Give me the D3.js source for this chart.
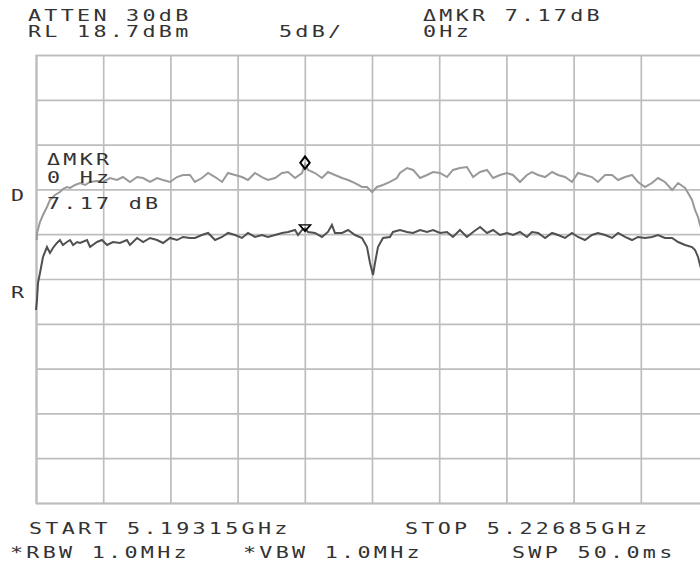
<!DOCTYPE html>
<html><head><meta charset="utf-8">
<script src="https://cdn.jsdelivr.net/npm/d3@7"></script>
<style>body{margin:0;background:#fff}svg{display:block}</style>
</head><body><svg id="c" width="700" height="565"></svg>
<script>
// ---- instrument settings ----
const startMHz = 5193.15, stopMHz = 5226.85;
const refLevel = 18.7, dbPerDiv = 5, nDiv = 10;

// ---- trace D (upper, lighter) : frequency MHz / level dBm ----
const upperFreq = [5193.19,5193.20,5193.35,5193.50,5193.70,5193.85,5194.10,5194.35,5194.50,5194.70,5194.86,5195.11,5195.36,5195.61,5195.86,5196.21,5196.51,5196.86,5197.21,5197.51,5197.86,5198.22,5198.52,5198.87,5199.22,5199.52,5199.87,5200.22,5200.52,5200.87,5201.12,5201.47,5201.78,5202.13,5202.48,5202.78,5203.13,5203.48,5203.78,5204.13,5204.48,5204.78,5205.14,5205.49,5205.79,5206.14,5206.49,5206.64,5206.79,5207.14,5207.49,5207.79,5208.14,5208.50,5208.80,5209.15,5209.50,5209.75,5210.00,5210.25,5210.55,5210.90,5211.25,5211.40,5211.76,5212.06,5212.41,5212.76,5213.06,5213.41,5213.76,5214.06,5214.41,5214.76,5215.07,5215.42,5215.77,5216.07,5216.42,5216.77,5217.07,5217.42,5217.77,5218.02,5218.33,5218.68,5219.03,5219.33,5219.68,5220.03,5220.33,5220.68,5221.03,5221.33,5221.69,5222.04,5222.34,5222.69,5223.04,5223.34,5223.69,5224.04,5224.34,5224.69,5225.05,5225.35,5225.70,5225.85,5226.05,5226.20,5226.35,5226.45,5226.85];
const upperLevel = [-1.95,-1.16,0.06,0.84,1.74,2.52,3.08,3.41,3.75,3.97,3.86,4.19,4.41,4.19,4.53,4.64,4.53,4.97,4.75,5.08,4.53,5.08,4.97,4.53,4.97,4.75,4.53,5.08,5.31,5.31,4.53,4.97,5.53,5.08,4.53,5.53,5.31,5.08,4.75,5.53,5.08,4.75,4.97,5.53,5.64,4.97,5.53,6.51,5.87,5.53,4.97,5.64,5.31,4.97,4.75,4.41,3.97,3.97,3.41,3.97,4.19,4.53,4.97,5.53,6.09,5.87,4.97,5.31,5.64,5.53,5.08,5.87,6.09,6.20,5.08,5.64,5.87,4.97,5.31,5.53,5.31,4.53,5.31,5.64,5.31,5.08,5.64,5.31,5.08,4.53,5.53,5.31,5.08,4.53,5.31,5.31,4.75,5.08,5.31,4.53,3.97,4.41,4.97,4.53,3.63,4.41,3.86,3.30,2.52,1.40,0.62,-0.27,-2.50];

// ---- trace R (lower, darker) ----
const lowerFreq = [5193.15,5193.20,5193.25,5193.35,5193.50,5193.70,5193.85,5194.00,5194.20,5194.35,5194.50,5194.70,5194.86,5195.01,5195.21,5195.36,5195.71,5195.86,5196.21,5196.46,5196.71,5197.01,5197.36,5197.71,5197.86,5198.22,5198.52,5198.87,5199.22,5199.52,5199.87,5200.22,5200.52,5200.87,5201.12,5201.47,5201.78,5202.13,5202.48,5202.78,5203.13,5203.48,5203.78,5204.13,5204.48,5204.78,5205.14,5205.49,5205.79,5206.14,5206.29,5206.49,5206.64,5206.79,5207.14,5207.49,5207.79,5207.99,5208.14,5208.50,5208.80,5209.15,5209.50,5209.75,5209.90,5210.05,5210.15,5210.30,5210.55,5210.90,5211.05,5211.40,5211.76,5212.06,5212.41,5212.76,5213.06,5213.41,5213.76,5214.06,5214.41,5214.76,5215.07,5215.42,5215.77,5216.07,5216.42,5216.77,5217.07,5217.42,5217.77,5218.02,5218.33,5218.68,5219.03,5219.33,5219.68,5220.03,5220.33,5220.68,5221.03,5221.33,5221.69,5222.04,5222.34,5222.69,5223.04,5223.34,5223.69,5224.04,5224.34,5224.69,5225.05,5225.35,5225.70,5226.05,5226.20,5226.35,5226.45,5226.85];
const lowerLevel = [-9.76,-8.64,-6.74,-5.63,-3.84,-2.73,-3.40,-2.84,-2.28,-1.95,-2.50,-2.17,-1.95,-2.50,-2.17,-2.28,-1.95,-2.73,-2.17,-1.95,-2.50,-2.17,-2.28,-1.95,-2.50,-1.72,-2.17,-1.72,-1.95,-2.28,-1.72,-1.95,-1.61,-1.72,-1.72,-1.39,-1.16,-1.95,-1.61,-1.16,-1.39,-1.72,-1.16,-1.61,-1.39,-1.61,-1.39,-1.16,-1.05,-0.83,-1.39,-0.83,-0.66,-1.05,-1.16,-1.61,-1.05,-0.27,-1.16,-1.16,-0.83,-1.39,-1.72,-2.73,-4.51,-5.85,-4.51,-2.73,-1.72,-1.61,-1.05,-0.83,-1.05,-1.16,-0.83,-1.05,-0.83,-1.16,-1.05,-1.61,-0.83,-1.61,-1.05,-0.50,-1.16,-0.83,-1.39,-1.16,-1.39,-1.05,-1.61,-1.05,-1.16,-1.72,-1.16,-1.39,-1.72,-1.16,-1.61,-1.95,-1.39,-1.16,-1.39,-1.72,-1.16,-1.61,-1.95,-1.61,-1.72,-1.61,-1.39,-1.72,-1.72,-2.17,-2.50,-2.73,-3.06,-3.84,-4.74,-7.50];

// ---- markers ----
const markerFreq = 5206.64;
const refMarkerLevel = -0.66;
const deltaMarkerDb = 7.17;

// ---- annotation text ----
const headerLeft = ["ATTEN 30dB", "RL 18.7dBm"];
const scaleLabel = "5dB/";
const headerRight = ["\u0394MKR 7.17dB", "0Hz"];
const footerTop = ["START 5.19315GHz", "STOP 5.22685GHz"];
const footerBottom = ["*RBW 1.0MHz", "*VBW 1.0MHz", "SWP 50.0ms"];
const markerReadout = ["\u0394MKR", "0 Hz", "7.17 dB"];
const traceLabels = ["D", "R"];

// ---- drawing ----
const svg = d3.select("#c");
const L = 36, R = 708, T = 55, B = 503;
const x = d3.scaleLinear([startMHz, stopMHz], [L, R]);
const y = d3.scaleLinear([refLevel - dbPerDiv * nDiv, refLevel], [B, T]);

const xTicks = d3.range(nDiv + 1).map(i => startMHz + i * (stopMHz - startMHz) / nDiv);
const yTicks = d3.range(nDiv + 1).map(i => refLevel - i * dbPerDiv);

const gridColor = "#bdbdbd";
svg.append("g").attr("transform", `translate(0,${B})`)
  .call(d3.axisBottom(x).tickValues(xTicks).tickSize(-(B - T)).tickFormat(""))
  .call(g => g.select(".domain").attr("stroke", gridColor).attr("stroke-width", 1.7))
  .call(g => g.selectAll(".tick line").attr("stroke", gridColor).attr("stroke-width", 1.7));
svg.append("g").attr("transform", `translate(${L},0)`)
  .call(d3.axisLeft(y).tickValues(yTicks).tickSize(-(R - L)).tickFormat(""))
  .call(g => g.select(".domain").attr("stroke", gridColor).attr("stroke-width", 1.7))
  .call(g => g.selectAll(".tick line").attr("stroke", gridColor).attr("stroke-width", 1.7));

const line = d3.line().x(d => x(d[0])).y(d => y(d[1]));
svg.append("path").datum(d3.zip(upperFreq, upperLevel))
  .attr("d", line).attr("fill", "none").attr("stroke", "#999999").attr("stroke-width", 2)
  .attr("stroke-linejoin", "miter");
svg.append("path").datum(d3.zip(lowerFreq, lowerLevel))
  .attr("d", line).attr("fill", "none").attr("stroke", "#505050").attr("stroke-width", 2)
  .attr("stroke-linejoin", "miter");

// markers
svg.append("path")
  .attr("d", d3.symbol(d3.symbolDiamond, 50)())
  .attr("transform", `translate(${x(markerFreq)},${y(refMarkerLevel + deltaMarkerDb) - 1.5}) scale(1.25,0.95)`)
  .attr("fill", "none").attr("stroke", "#000").attr("stroke-width", 1.7);
svg.append("path")
  .attr("d", d3.symbol(d3.symbolTriangle, 40)())
  .attr("transform", `translate(${x(markerFreq)},${y(refMarkerLevel) - 1.5}) rotate(180) scale(1.15,0.75)`)
  .attr("fill", "none").attr("stroke", "#000").attr("stroke-width", 1.7);

// text
function label(str, px, py) {
  svg.append("text")
    .attr("transform", `translate(${px},${py}) scale(1.45,1)`)
    .attr("font-family", "DejaVu Sans Mono")
    .attr("font-size", 15)
    .attr("letter-spacing", 2.25)
    .attr("fill", "#333")
    .text(str);
}
label(headerLeft[0], 28, 21);
label(headerLeft[1], 28, 37);
label(scaleLabel, 279, 37);
label(headerRight[0], 423, 21);
label(headerRight[1], 423, 37);
label(footerTop[0], 29, 534);
label(footerTop[1], 405, 534);
label(footerBottom[0], 10, 558);
label(footerBottom[1], 243, 558);
label(footerBottom[2], 512, 558);
label(markerReadout[0], 47, 165);
label(markerReadout[1], 47, 183);
label(markerReadout[2], 47, 209);
label(traceLabels[0], 11, 201);
label(traceLabels[1], 11, 298);
</script></body></html>
